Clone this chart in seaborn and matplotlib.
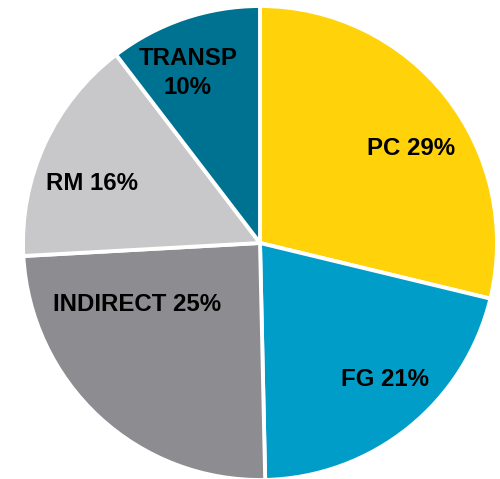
import numpy as np
import matplotlib
matplotlib.use("Agg")
import matplotlib.pyplot as plt
import seaborn as sns

# Data (shares in %, clockwise from 12 o'clock)
categories = ["PC", "FG", "INDIRECT", "RM", "TRANSP"]
shares = [28.8, 20.9, 24.5, 15.5, 10.4]
labels = ["PC 29%", "FG 21%", "INDIRECT 25%", "RM 16%", "TRANSP\n10%"]

colors = ["#FFD20A", "#009DC8", "#8D8C91", "#C8C8CA", "#007291"]

# label placement (angle in degrees, radius as fraction of pie radius)
label_angles = [32, -47.5, 206.7, 160.6, 113]
label_radii = [0.75, 0.78, 0.58, 0.75, 0.78]

sns.set_style("white")
plt.rcParams['font.family'] = ['Liberation Sans', 'DejaVu Sans']

fig = plt.figure(figsize=(5.0, 4.79), dpi=100)
ax = fig.add_axes([0, 0, 1, 1])

cx, cy, r = 260, 479 - 243, 237
wedges, _ = ax.pie(shares, colors=colors, startangle=90, counterclock=False,
                   center=(cx, cy), radius=r,
                   wedgeprops=dict(edgecolor="white", linewidth=2.8))

for lab, ang, rf in zip(labels, label_angles, label_radii):
    a = np.deg2rad(ang)
    ax.text(cx + rf * r * np.cos(a), cy + rf * r * np.sin(a), lab,
            ha="center", va="center", fontsize=17.3, fontweight="bold",
            color="black", linespacing=1.3)

ax.set_xlim(0, 500)
ax.set_ylim(0, 479)
ax.set_aspect("equal")
ax.axis("off")

fig.savefig("out.png", dpi=100)
